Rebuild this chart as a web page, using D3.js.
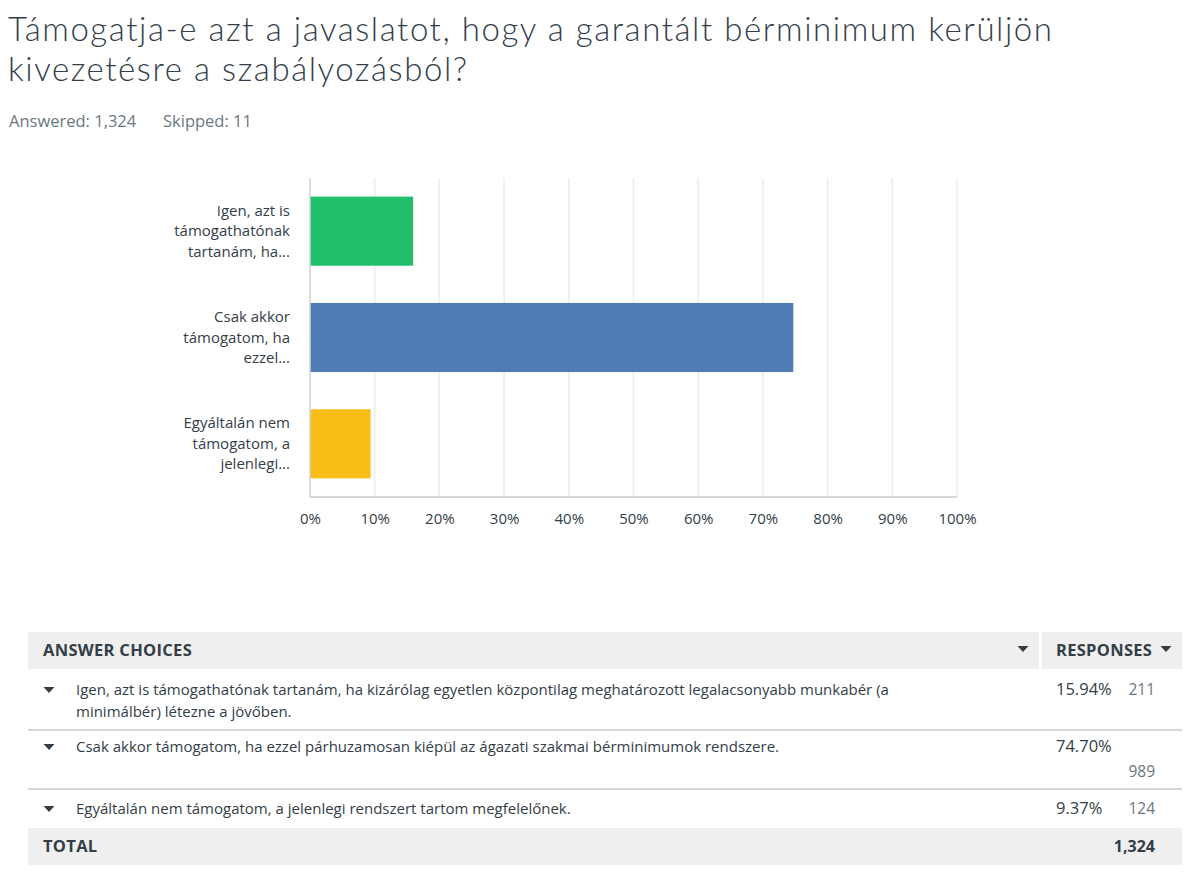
<!DOCTYPE html>
<html><head><meta charset="utf-8">
<script src="https://cdn.jsdelivr.net/npm/d3@7"></script>
<style>
body{margin:0;background:#fff;}
svg{display:block;font-family:"Open Sans","Noto Sans",sans-serif;}
</style></head>
<body>
<svg id="c" width="1200" height="881"></svg>
<script>
const titleLines = ["Támogatja-e azt a javaslatot, hogy a garantált bérminimum kerüljön", "kivezetésre a szabályozásból?"];
const answered = "Answered: 1,324";
const skipped = "Skipped: 11";
const categories = [["Igen, azt is","támogathatónak","tartanám, ha..."],["Csak akkor","támogatom, ha","ezzel..."],["Egyáltalán nem","támogatom, a","jelenlegi..."]];
const values = [15.94, 74.70, 9.37];
const counts = ["211", "989", "124"];
const colors = ["#21bf6b", "#507cb6", "#f9be15"];
const ticks = [0,10,20,30,40,50,60,70,80,90,100];
const fullChoices = [["Igen, azt is támogathatónak tartanám, ha kizárólag egyetlen központilag meghatározott legalacsonyabb munkabér (a","minimálbér) létezne a jövőben."],["Csak akkor támogatom, ha ezzel párhuzamosan kiépül az ágazati szakmai bérminimumok rendszere."],["Egyáltalán nem támogatom, a jelenlegi rendszert tartom megfelelőnek."]];
const total = "1,324";

const svg = d3.select("#c");
const textCol = "#333e48";

// Title
svg.append("text").attr("font-size",33).attr("font-weight",300).attr("font-family","Lato, 'Open Sans', sans-serif").attr("fill","#333e48")
  .selectAll("tspan").data(titleLines).join("tspan").attr("x",8).attr("y",(d,i)=>41+i*40)
  .attr("textLength",(d,i)=>i===0?1044:459).attr("lengthAdjust","spacing").text(d=>d);
svg.append("text").attr("x",9).attr("y",127).attr("font-size",16.5).attr("fill","#6b787f").text(answered);
svg.append("text").attr("x",163).attr("y",127).attr("font-size",16.5).attr("fill","#6b787f").text(skipped);

// Chart
const x = d3.scaleLinear().domain([0,100]).range([310,957]);
const y = d3.scaleBand().domain(d3.range(values.length)).range([178,497]).paddingInner(0.35).paddingOuter(0.175);

const g = svg.append("g");
g.selectAll("line.grid").data(ticks).join("line").attr("class","grid")
  .attr("x1",d=>x(d)).attr("x2",d=>x(d)).attr("y1",178).attr("y2",497)
  .attr("stroke","#ececec").attr("stroke-width",1.5);
g.selectAll("rect.bar").data(values).join("rect").attr("class","bar")
  .attr("x",x(0)).attr("y",(d,i)=>y(i)).attr("width",d=>x(d)-x(0)).attr("height",y.bandwidth())
  .attr("fill",(d,i)=>colors[i]);
g.append("line").attr("x1",x(0)).attr("x2",x(100)).attr("y1",497).attr("y2",497).attr("stroke","#d6d6d6").attr("stroke-width",2);
g.append("line").attr("x1",x(0)).attr("x2",x(0)).attr("y1",178).attr("y2",497).attr("stroke","#d6d6d6").attr("stroke-width",1.5);

const xAxis = d3.axisBottom(x).tickValues(ticks).tickFormat(d=>d+"%").tickSize(0).tickPadding(0);
const ax = svg.append("g").attr("transform","translate(0,513)").call(xAxis);
ax.select(".domain").remove();
ax.selectAll("text").attr("font-size",15).attr("fill",textCol).attr("font-family","'Open Sans','Noto Sans',sans-serif").attr("dy","0.71em");

// Y labels
categories.forEach((lines,i)=>{
  const cy = y(i)+y.bandwidth()/2;
  const t = svg.append("text").attr("text-anchor","end").attr("font-size",15).attr("fill",textCol);
  lines.forEach((l,j)=>{
    t.append("tspan").attr("x",290).attr("y",cy+(j-1)*20.5+5).text(l);
  });
});

// Table
const tb = svg.append("g");
tb.append("rect").attr("x",28).attr("y",632).attr("width",1011).attr("height",37).attr("fill","#efefef");
tb.append("rect").attr("x",1042).attr("y",632).attr("width",140).attr("height",37).attr("fill","#efefef");
tb.append("text").attr("x",43).attr("y",656).attr("font-size",16.5).attr("letter-spacing",0.3).attr("font-weight",700).attr("fill",textCol).text("ANSWER CHOICES");
tb.append("text").attr("x",1056).attr("y",656).attr("font-size",16.5).attr("letter-spacing",0.3).attr("font-weight",700).attr("fill",textCol).text("RESPONSES");
function tri(cx,cy,w,h){return `M${cx-w/2},${cy-h/2}L${cx+w/2},${cy-h/2}L${cx},${cy+h/2}Z`;}
tb.append("path").attr("d",tri(1023,649,11,6)).attr("fill",textCol);
tb.append("path").attr("d",tri(1166,649,11,6)).attr("fill",textCol);

const rowText = [695, 752, 814];
rowText.forEach((ty,i)=>{
  tb.append("path").attr("d",tri(49,ty-5,11,6)).attr("fill",textCol);
  const t = tb.append("text").attr("font-size",15).attr("fill",textCol);
  fullChoices[i].forEach((l,j)=>t.append("tspan").attr("x",76).attr("y",ty+j*22).text(l));
  tb.append("text").attr("x",1056).attr("y",ty).attr("font-size",16.5).attr("fill",textCol).text(d3.format(".2f")(values[i])+"%");
  const cyy = i===1 ? ty+25 : ty;
  tb.append("text").attr("x",1155).attr("y",cyy).attr("text-anchor","end").attr("font-size",15.5).attr("fill","#6b787f").text(counts[i]);
});
[730, 789].forEach(ly=>tb.append("line").attr("x1",28).attr("x2",1182).attr("y1",ly).attr("y2",ly).attr("stroke","#d6d6d6").attr("stroke-width",2));
tb.append("rect").attr("x",28).attr("y",828).attr("width",1154).attr("height",37).attr("fill","#efefef");
tb.append("text").attr("x",43).attr("y",852).attr("font-size",16.5).attr("letter-spacing",0.3).attr("font-weight",700).attr("fill",textCol).text("TOTAL");
tb.append("text").attr("x",1155).attr("y",852).attr("text-anchor","end").attr("font-size",16).attr("font-weight",700).attr("fill",textCol).text(total);
</script>
</body></html>
